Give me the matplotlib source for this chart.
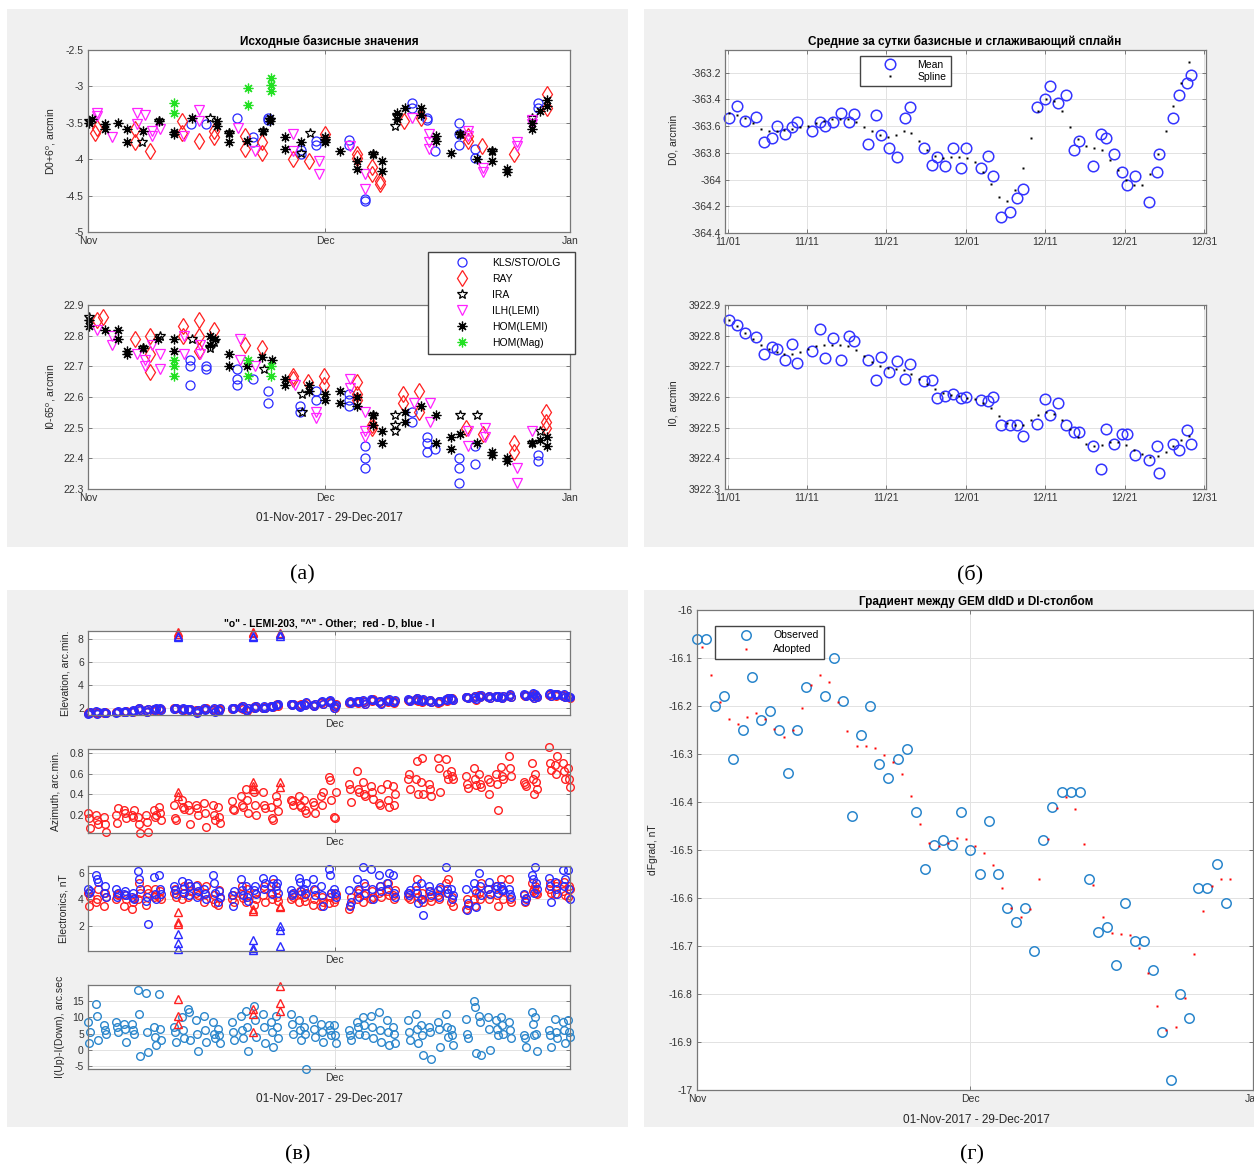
import numpy as np
import matplotlib
matplotlib.use("Agg")
import matplotlib.pyplot as plt
from matplotlib.lines import Line2D
from matplotlib.patches import Rectangle
from matplotlib.ticker import FuncFormatter

W, H, DPI = 1254, 1169, 100
plt.rcParams['font.family'] = ['Liberation Sans', 'DejaVu Sans']
plt.rcParams['mathtext.fontset'] = 'custom'
plt.rcParams['mathtext.rm'] = 'Liberation Sans'

# ===================== data =====================
# Time axis: days since 01-Nov-2017
month_ticks = [0, 30, 61]
month_labels = ['Nov', 'Dec', 'Jan']
date_ticks = [0, 10, 20, 30, 40, 50, 60]
date_labels = ['11/01', '11/11', '11/21', '12/01', '12/11', '12/21', '12/31']

# (a) raw baseline values per observer, D0+6 deg
kls_d_day = [13.0, 14.9, 18.8, 20.9, 20.9, 22.8, 22.8, 26.9, 26.9, 28.9, 28.9, 33.0, 33.0, 35.0, 35.0,
             41.0, 41.0, 42.9, 42.9, 43.9, 46.9, 46.9, 46.9, 49.0, 49.0, 57.0, 57.0]
kls_d_val = [-3.52, -3.52, -3.43, -3.70, -3.77, -3.43, -3.46, -3.93, -3.88, -3.75, -3.80, -3.73, -3.80, -4.55, -4.58,
             -3.23, -3.30, -3.43, -3.46, -3.89, -3.50, -3.66, -3.80, -3.86, -3.98, -3.23, -3.30]
ray_d_day = [0.9, 1.1, 6.0, 6.0, 7.9, 11.9, 11.9, 14.0, 15.9, 15.9, 19.9, 19.9, 22.0, 22.0, 26.0, 28.0, 30.0,
             34.0, 34.0, 35.9, 35.9, 37.0, 37.0, 40.0, 42.1, 48.1, 48.1, 49.9, 53.9, 58.1, 58.1]
ray_d_val = [-3.64, -3.57, -3.59, -3.77, -3.89, -3.48, -3.64, -3.75, -3.61, -3.70, -3.68, -3.86, -3.77, -3.91, -4.00,
             -4.02, -3.66, -3.93, -3.98, -4.11, -4.20, -4.30, -4.34, -3.48, -3.43, -3.68, -3.75, -3.82, -3.93,
             -3.11, -3.30]
ira_d_day = [0.1, 6.8, 9.0, 15.4, 17.9, 22.2, 23.0, 27.0, 28.1, 30.0, 36.1, 38.9, 39.1, 47.1, 51.1, 56.2]
ira_d_val = [-3.48, -3.77, -3.48, -3.43, -3.64, -3.61, -3.46, -3.91, -3.64, -3.75, -3.93, -3.55, -3.41, -3.66,
             -3.89, -3.43]
ilh_d_day = [1.1, 1.1, 3.0, 6.2, 6.2, 7.2, 8.1, 8.1, 9.1, 12.1, 14.0, 14.0, 19.0, 21.1, 26.0, 26.0, 29.2, 29.2,
             33.2, 35.1, 35.1, 41.0, 43.1, 43.1, 43.1, 48.1, 48.1, 50.0, 50.0, 54.3, 54.3, 56.2, 56.2]
ilh_d_val = [-3.36, -3.40, -3.70, -3.36, -3.52, -3.39, -3.61, -3.68, -3.59, -3.68, -3.32, -3.48, -3.57, -3.89,
             -3.66, -3.89, -4.02, -4.20, -3.82, -4.20, -4.41, -3.43, -3.66, -3.77, -3.86, -3.61, -3.68, -4.18,
             -4.12, -3.77, -3.82, -3.52, -3.46]
homl_d_day = [0.1, 0.5, 2.2, 2.2, 3.8, 4.9, 4.9, 7.0, 9.0, 10.9, 10.9, 13.1, 16.3, 16.3, 17.9, 17.9, 20.1, 22.2,
              23.0, 23.0, 24.9, 24.9, 27.0, 30.0, 30.0, 31.9, 34.0, 34.0, 36.1, 37.2, 37.2, 39.1, 39.1, 40.1,
              42.2, 42.2, 44.1, 44.1, 46.0, 47.1, 49.2, 51.1, 51.1, 53.0, 53.0, 56.2, 56.2, 57.2, 58.1, 58.1]
homl_d_val = [-3.50, -3.45, -3.52, -3.58, -3.50, -3.59, -3.77, -3.61, -3.48, -3.62, -3.66, -3.43, -3.48, -3.55,
              -3.64, -3.77, -3.75, -3.61, -3.43, -3.48, -3.70, -3.86, -3.77, -3.70, -3.77, -3.89, -4.02, -4.14,
              -3.93, -4.02, -4.16, -3.36, -3.45, -3.30, -3.30, -3.39, -3.68, -3.75, -3.91, -3.66, -4.00, -3.89,
              -4.02, -4.14, -4.18, -3.50, -3.59, -3.34, -3.18, -3.27]
homm_d_day = [10.9, 10.9, 20.2, 20.2, 23.2, 23.2, 23.2]
homm_d_val = [-3.23, -3.36, -3.02, -3.25, -2.89, -2.98, -3.07]

# (a) raw baseline values per observer, I0-65 deg
kls_i_day = [12.9, 12.9, 12.9, 14.9, 14.9, 18.9, 18.9, 18.9, 20.9, 22.8, 22.8, 26.8, 26.8, 28.9, 28.9, 33.0, 33.0,
             33.0, 35.0, 35.0, 35.0, 41.0, 41.0, 42.9, 42.9, 42.9, 43.9, 46.9, 46.9, 46.9, 49.0, 49.0, 57.0, 57.0]
kls_i_val = [22.72, 22.70, 22.64, 22.70, 22.69, 22.69, 22.66, 22.64, 22.66, 22.62, 22.58, 22.57, 22.55, 22.62,
             22.59, 22.61, 22.59, 22.57, 22.44, 22.40, 22.37, 22.55, 22.52, 22.47, 22.45, 22.42, 22.43, 22.40,
             22.37, 22.32, 22.44, 22.38, 22.41, 22.39]
ray_i_day = [1.1, 1.9, 6.0, 7.9, 7.9, 7.9, 12.0, 12.0, 14.0, 14.0, 14.0, 15.9, 19.9, 22.0, 26.0, 26.0, 27.9, 29.9,
             29.9, 34.1, 34.1, 34.1, 36.0, 36.0, 39.9, 39.9, 41.9, 41.9, 47.9, 50.0, 53.9, 53.9, 57.9, 57.9, 57.9]
ray_i_val = [22.85, 22.86, 22.79, 22.80, 22.74, 22.68, 22.83, 22.80, 22.85, 22.80, 22.75, 22.82, 22.77, 22.76,
             22.67, 22.66, 22.65, 22.67, 22.64, 22.65, 22.61, 22.59, 22.51, 22.50, 22.61, 22.58, 22.62, 22.55,
             22.50, 22.48, 22.45, 22.42, 22.55, 22.52, 22.50]
ira_i_day = [0.1, 7.0, 9.1, 13.2, 15.4, 15.9, 22.3, 27.1, 27.1, 36.1, 38.9, 38.9, 38.9, 47.1, 49.2, 56.2, 57.2]
ira_i_val = [22.86, 22.76, 22.80, 22.79, 22.76, 22.78, 22.69, 22.61, 22.55, 22.54, 22.54, 22.51, 22.49, 22.54,
             22.54, 22.45, 22.49]
ilh_i_day = [1.1, 3.0, 3.0, 6.2, 7.2, 7.2, 8.1, 9.1, 9.1, 12.1, 12.1, 14.2, 14.2, 19.2, 19.2, 21.1, 26.2, 28.9,
             28.9, 33.2, 33.2, 35.1, 35.1, 35.1, 41.2, 43.3, 43.3, 48.1, 48.1, 50.2, 50.2, 54.3, 54.3, 56.2]
ilh_i_val = [22.82, 22.80, 22.77, 22.74, 22.70, 22.72, 22.77, 22.74, 22.69, 22.80, 22.74, 22.77, 22.74, 22.79,
             22.72, 22.70, 22.64, 22.55, 22.53, 22.66, 22.63, 22.55, 22.49, 22.47, 22.58, 22.58, 22.52, 22.49,
             22.44, 22.50, 22.47, 22.37, 22.32, 22.49]
homl_i_day = [0.1, 0.1, 2.2, 3.8, 3.8, 4.9, 4.9, 7.0, 8.9, 10.9, 10.9, 15.4, 15.4, 16.1, 17.9, 17.9, 20.1, 22.0,
              23.3, 24.9, 24.9, 28.0, 28.0, 30.0, 30.0, 31.9, 31.9, 34.0, 34.0, 36.1, 36.1, 37.2, 37.2, 40.1,
              40.1, 42.2, 44.1, 44.1, 46.0, 46.0, 47.1, 49.2, 51.1, 51.1, 53.0, 53.0, 56.2, 57.2, 58.1, 58.1]
homl_i_val = [22.85, 22.83, 22.82, 22.82, 22.79, 22.75, 22.74, 22.76, 22.79, 22.79, 22.75, 22.80, 22.77, 22.79,
              22.74, 22.70, 22.70, 22.73, 22.72, 22.66, 22.64, 22.64, 22.62, 22.61, 22.59, 22.62, 22.58, 22.60,
              22.57, 22.54, 22.51, 22.49, 22.45, 22.55, 22.52, 22.57, 22.54, 22.45, 22.47, 22.43, 22.48, 22.45,
              22.42, 22.41, 22.40, 22.39, 22.45, 22.46, 22.47, 22.44]
homm_i_day = [10.9, 10.9, 10.9, 20.2, 20.2, 23.2, 23.2]
homm_i_val = [22.72, 22.70, 22.67, 22.72, 22.67, 22.70, 22.67]

# (b) daily means and smoothing spline
obs_days = [0.15, 1.14, 2.12, 3.51, 4.54, 5.53, 6.17, 7.21, 8.15, 8.79, 10.62, 11.60, 12.25, 13.28, 14.27,
            15.31, 15.90, 17.68, 18.67, 19.31, 20.35, 21.38, 22.37, 22.96, 24.79, 25.78, 26.42, 27.41, 28.40,
            29.43, 30.02, 31.85, 32.84, 33.48, 34.47, 35.51, 36.49, 37.19, 38.96, 39.95, 40.54, 41.58, 42.62,
            43.56, 44.20, 46.02, 47.01, 47.65, 48.69, 49.63, 50.27, 51.26, 53.09, 54.07, 54.37, 56.15, 56.79,
            57.83, 58.42]
d0_mean = [-363.54, -363.45, -363.56, -363.53, -363.72, -363.69, -363.60, -363.66, -363.61, -363.57,
           -363.64, -363.57, -363.60, -363.57, -363.50, -363.57, -363.51, -363.73, -363.52, -363.67,
           -363.76, -363.83, -363.54, -363.46, -363.76, -363.89, -363.83, -363.90, -363.76, -363.91,
           -363.76, -363.91, -363.82, -363.97, -364.28, -364.24, -364.14, -364.07, -363.46, -363.40,
           -363.30, -363.43, -363.37, -363.78, -363.71, -363.90, -363.66, -363.69, -363.81, -363.94,
           -364.04, -363.97, -364.17, -363.94, -363.81, -363.54, -363.37, -363.28, -363.22]
i0_mean = [3922.851, 3922.835, 3922.808, 3922.795, 3922.739, 3922.762, 3922.755, 3922.722, 3922.773, 3922.711,
           3922.749, 3922.822, 3922.728, 3922.792, 3922.722, 3922.798, 3922.782, 3922.722, 3922.657, 3922.732,
           3922.681, 3922.716, 3922.659, 3922.706, 3922.652, 3922.657, 3922.598, 3922.603, 3922.609, 3922.598,
           3922.600, 3922.591, 3922.586, 3922.600, 3922.508, 3922.508, 3922.510, 3922.473, 3922.513, 3922.592,
           3922.542, 3922.580, 3922.508, 3922.486, 3922.486, 3922.441, 3922.364, 3922.497, 3922.446, 3922.479,
           3922.479, 3922.412, 3922.396, 3922.441, 3922.353, 3922.448, 3922.427, 3922.492, 3922.446]
spline_days = np.arange(59) + 0.15
d0_spline = [-363.50, -363.52, -363.54, -363.58, -363.62, -363.64, -363.64, -363.63, -363.62, -363.61,
             -363.60, -363.58, -363.56, -363.55, -363.55, -363.55, -363.57, -363.61, -363.64, -363.67,
             -363.68, -363.67, -363.64, -363.65, -363.71, -363.78, -363.82, -363.84, -363.83, -363.83,
             -363.84, -363.87, -363.94, -364.03, -364.13, -364.16, -364.08, -363.91, -363.69, -363.49,
             -363.40, -363.41, -363.49, -363.61, -363.70, -363.75, -363.76, -363.78, -363.85, -363.93,
             -364.00, -364.04, -364.04, -363.96, -363.81, -363.64, -363.45, -363.28, -363.12]
i0_spline = [3922.851, 3922.833, 3922.809, 3922.790, 3922.771, 3922.755, 3922.746, 3922.741, 3922.741, 3922.746,
             3922.755, 3922.765, 3922.770, 3922.770, 3922.768, 3922.766, 3922.754, 3922.733, 3922.714, 3922.701,
             3922.694, 3922.690, 3922.687, 3922.676, 3922.660, 3922.643, 3922.625, 3922.614, 3922.607, 3922.602,
             3922.598, 3922.594, 3922.581, 3922.564, 3922.538, 3922.516, 3922.508, 3922.508, 3922.524, 3922.540,
             3922.551, 3922.546, 3922.524, 3922.497, 3922.470, 3922.448, 3922.441, 3922.443, 3922.452, 3922.454,
             3922.445, 3922.427, 3922.414, 3922.405, 3922.408, 3922.421, 3922.441, 3922.459, 3922.473]

# (c) theodolite checks: three sessions per observation day (hours from the daily mean time)
session_hours = [-3, 0, 3]
elev_d = [[1.50, 1.60, 1.55], [1.60, 1.50, 1.55], [1.55, 1.60, 1.50], [1.60, 1.65, 1.60], [1.65, 1.60, 1.70],
          [1.70, 1.65, 1.70], [1.90, 2.00, 1.80], [1.80, 1.60, 1.90], [1.85, 1.70, 1.90], [1.90, 1.80, 1.85],
          [1.95, 1.90, 2.00], [1.85, 1.90, 1.80], [1.90, 1.80, 1.85], [1.80, 1.60, 1.75], [1.90, 1.85, 2.00],
          [1.80, 1.90, 1.70], [1.85, 1.75, 1.90], [1.90, 2.00, 1.95], [2.00, 2.10, 1.90], [1.80, 1.70, 2.00],
          [2.00, 2.10, 2.05], [1.95, 2.05, 2.00], [2.10, 2.15, 2.05], [2.20, 2.30, 2.15], [2.30, 2.25, 2.35],
          [2.20, 2.10, 2.30], [2.30, 2.20, 2.40], [2.25, 2.10, 2.30], [2.40, 2.50, 2.30], [2.50, 2.60, 2.45],
          [2.10, 2.00, 2.30], [2.40, 2.50, 2.45], [2.50, 2.40, 2.55], [2.60, 2.50, 2.30], [2.70, 2.60, 2.75],
          [2.50, 2.60, 2.40], [2.60, 2.50, 2.70], [2.55, 2.40, 2.60], [2.70, 2.60, 2.65], [2.70, 2.80, 2.60],
          [2.65, 2.50, 2.70], [2.60, 2.70, 2.50], [2.40, 2.60, 2.50], [2.70, 2.60, 2.80], [2.75, 2.80, 2.65],
          [2.90, 2.95, 2.85], [2.90, 3.00, 2.70], [3.10, 2.90, 3.00], [2.90, 3.00, 2.80], [3.00, 2.90, 3.05],
          [2.90, 2.80, 3.00], [3.00, 3.10, 2.90], [3.10, 3.05, 3.10], [3.00, 3.20, 2.80], [3.10, 3.00, 2.90],
          [3.10, 3.20, 3.00], [3.15, 3.05, 3.20], [3.00, 3.10, 2.90], [3.00, 2.90, 2.85]]
elev_i = [[1.45, 1.55, 1.60], [1.70, 1.45, 1.60], [1.60, 1.55, 1.50], [1.55, 1.65, 1.70], [1.60, 1.70, 1.65],
          [1.65, 1.75, 1.70], [1.85, 1.95, 1.75], [1.75, 1.65, 1.85], [1.90, 1.75, 1.95], [1.85, 1.95, 1.80],
          [1.90, 1.95, 2.00], [1.80, 1.95, 1.85], [1.85, 1.75, 1.90], [1.70, 1.55, 1.80], [1.95, 1.80, 1.90],
          [1.75, 1.95, 1.65], [1.80, 1.70, 1.95], [1.95, 1.90, 2.00], [2.05, 1.95, 2.10], [1.75, 1.80, 1.95],
          [2.05, 2.00, 2.15], [2.00, 2.10, 1.95], [2.15, 2.05, 2.10], [2.25, 2.20, 2.30], [2.35, 2.20, 2.30],
          [2.15, 2.05, 2.25], [2.35, 2.25, 2.45], [2.20, 2.15, 2.35], [2.45, 2.55, 2.35], [2.55, 2.65, 2.40],
          [2.00, 2.15, 2.25], [2.45, 2.55, 2.40], [2.55, 2.45, 2.60], [2.65, 2.45, 2.35], [2.75, 2.65, 2.70],
          [2.45, 2.55, 2.35], [2.65, 2.55, 2.75], [2.50, 2.45, 2.65], [2.75, 2.65, 2.60], [2.75, 2.85, 2.65],
          [2.70, 2.55, 2.75], [2.55, 2.65, 2.45], [2.45, 2.55, 2.60], [2.75, 2.65, 2.85], [2.80, 2.75, 2.70],
          [2.95, 2.90, 2.80], [2.85, 3.05, 2.75], [3.05, 2.95, 3.10], [2.95, 3.05, 2.85], [3.05, 2.95, 3.00],
          [2.95, 2.85, 3.05], [3.05, 3.15, 2.95], [3.15, 3.10, 3.05], [3.05, 3.25, 2.85], [3.15, 3.05, 2.95],
          [3.15, 3.25, 3.05], [3.20, 3.10, 3.15], [3.05, 3.15, 2.95], [3.05, 2.95, 2.90]]
azim = [[0.22, 0.17, 0.08], [0.20, 0.15, 0.12], [0.18, 0.12, 0.04], [0.20, 0.13, 0.27], [0.25, 0.22, 0.17],
        [0.20, 0.18, 0.25], [0.18, 0.12, 0.03], [0.20, 0.14, 0.04], [0.25, 0.18, 0.20], [0.28, 0.22, 0.15],
        [0.30, 0.17, 0.15], [0.35, 0.28, 0.26], [0.30, 0.25, 0.12], [0.30, 0.27, 0.20], [0.32, 0.22, 0.09],
        [0.30, 0.20, 0.15], [0.28, 0.18, 0.13], [0.34, 0.26, 0.25], [0.38, 0.30, 0.28], [0.45, 0.35, 0.22],
        [0.42, 0.30, 0.20], [0.42, 0.30, 0.27], [0.28, 0.17, 0.15], [0.38, 0.33, 0.24], [0.35, 0.34, 0.30],
        [0.38, 0.30, 0.28], [0.35, 0.25, 0.22], [0.33, 0.30, 0.22], [0.38, 0.30, 0.42], [0.57, 0.54, 0.35],
        [0.18, 0.17, 0.42], [0.50, 0.45, 0.33], [0.62, 0.45, 0.42], [0.52, 0.40, 0.38], [0.48, 0.42, 0.36],
        [0.32, 0.30, 0.45], [0.50, 0.35, 0.28], [0.48, 0.30, 0.40], [0.55, 0.60, 0.45], [0.55, 0.72, 0.40],
        [0.52, 0.75, 0.40], [0.50, 0.45, 0.38], [0.75, 0.65, 0.42], [0.74, 0.60, 0.55], [0.62, 0.58, 0.55],
        [0.58, 0.50, 0.46], [0.65, 0.55, 0.49], [0.60, 0.50, 0.47], [0.55, 0.40, 0.52], [0.60, 0.50, 0.25],
        [0.66, 0.58, 0.55], [0.77, 0.65, 0.58], [0.52, 0.50, 0.48], [0.70, 0.55, 0.40], [0.60, 0.52, 0.45],
        [0.85, 0.70, 0.63], [0.68, 0.60, 0.77], [0.70, 0.62, 0.55], [0.65, 0.55, 0.47]]
elec_d = [[4.5, 3.5, 4.2], [3.8, 4.0, 4.8], [3.5, 4.5, 4.2], [4.0, 4.4, 4.3], [3.5, 4.3, 4.0],
          [3.3, 3.8, 4.1], [4.0, 5.2, 4.5], [3.6, 4.8, 4.5], [4.2, 4.8, 4.3], [4.2, 4.6, 4.0],
          [4.5, 4.8, 4.2], [4.0, 4.5, 5.0], [4.2, 5.0, 4.6], [4.5, 5.1, 4.3], [3.8, 4.5, 5.0],
          [4.0, 4.3, 3.7], [3.6, 4.7, 4.1], [4.0, 4.3, 3.8], [4.4, 5.0, 4.1], [3.8, 4.8, 4.3],
          [3.6, 4.5, 4.0], [4.3, 5.0, 3.8], [4.5, 4.0, 5.2], [4.7, 4.2, 3.9], [4.0, 4.4, 4.2],
          [3.8, 4.6, 4.4], [4.2, 3.9, 4.5], [3.6, 4.0, 4.7], [3.5, 4.2, 3.8], [3.7, 4.2, 4.5],
          [3.8, 4.0, 4.4], [3.3, 3.6, 4.2], [4.0, 4.5, 4.7], [3.8, 4.3, 5.0], [4.0, 4.6, 4.2],
          [4.5, 5.0, 4.2], [4.6, 5.2, 4.3], [4.3, 4.0, 4.7], [4.2, 4.5, 4.0], [4.7, 5.5, 4.2],
          [4.0, 4.5, 3.8], [4.6, 4.2, 3.9], [4.3, 4.0, 4.8], [5.2, 4.5, 5.5], [3.8, 4.2, 3.5],
          [3.3, 4.0, 3.6], [4.0, 3.5, 4.5], [4.5, 4.0, 5.2], [4.8, 4.0, 4.4], [5.0, 4.3, 3.5],
          [5.5, 4.6, 4.0], [5.5, 4.0, 3.8], [4.3, 3.8, 4.0], [5.2, 4.6, 4.8], [5.0, 4.5, 4.4],
          [4.8, 5.2, 4.5], [4.4, 5.0, 5.2], [4.6, 5.3, 4.3], [4.2, 5.0, 4.8]]
elec_i = [[4.8, 4.5, 4.6], [5.8, 5.5, 5.3], [4.5, 5.0, 4.2], [4.8, 4.2, 4.5], [4.4, 4.6, 4.3],
          [4.2, 4.5, 4.0], [6.1, 5.5, 4.8], [3.9, 4.2, 2.1], [5.7, 4.4, 4.0], [5.8, 4.8, 4.4],
          [5.0, 4.7, 4.4], [5.4, 4.8, 4.5], [5.2, 4.3, 5.0], [5.0, 4.2, 4.6], [4.8, 4.4, 4.0],
          [5.8, 5.2, 4.5], [3.8, 4.6, 4.2], [4.3, 3.5, 4.6], [5.5, 4.7, 4.3], [5.0, 4.2, 3.9],
          [4.7, 5.0, 4.4], [5.6, 4.8, 5.2], [5.0, 4.4, 5.5], [5.0, 5.2, 4.5], [4.7, 4.3, 4.5],
          [5.6, 5.3, 4.6], [4.8, 4.4, 5.2], [5.5, 4.8, 4.3], [5.0, 4.3, 3.5], [6.3, 5.8, 4.5],
          [4.8, 4.5, 4.2], [4.7, 3.5, 3.8], [5.5, 4.8, 4.2], [6.4, 5.2, 4.5], [6.3, 4.8, 4.0],
          [5.8, 5.0, 4.6], [5.2, 4.8, 6.0], [5.8, 4.5, 4.2], [4.5, 4.3, 4.7], [5.0, 4.5, 3.7],
          [5.2, 4.0, 2.8], [5.0, 4.6, 4.3], [4.7, 4.2, 4.9], [6.4, 4.8, 4.5], [4.8, 4.0, 4.3],
          [4.8, 3.2, 3.7], [5.2, 4.7, 3.4], [6.0, 5.0, 4.3], [4.8, 5.3, 4.4], [4.8, 5.0, 4.5],
          [5.0, 4.8, 4.7], [4.8, 4.4, 4.2], [4.4, 3.9, 4.1], [5.8, 5.5, 4.5], [6.4, 5.2, 4.8],
          [5.6, 5.0, 3.8], [5.3, 4.8, 4.4], [6.2, 5.0, 5.5], [6.2, 4.8, 4.0]]
up_down = [[8.5, 2.0, 5.5], [14.0, 10.5, 3.0], [7.5, 6.0, 5.0], [8.5, 7.0, 5.5], [8.0, 6.5, 2.5],
           [8.0, 6.0, 5.0], [18.5, 11.0, -2.0], [17.5, 5.5, -0.8], [7.0, 4.0, 1.5], [17.0, 6.5, 3.0],
           [7.0, 5.5, 2.5], [10.0, 6.0, 3.5], [12.5, 11.5, 3.0], [9.0, 5.0, -0.5], [10.5, 6.0, 2.5],
           [8.5, 5.0, 3.5], [6.5, 4.5, 2.0], [8.5, 5.5, 3.0], [10.5, 6.0, 3.5], [12.0, 7.0, -0.5],
           [13.5, 9.0, 4.0], [11.0, 7.0, 2.0], [8.5, 5.5, 1.0], [10.5, 7.0, 3.5], [11.0, 8.0, 5.0],
           [9.0, 6.0, 3.0], [7.0, 5.0, -5.8], [9.5, 6.5, 4.0], [8.0, 5.5, 2.5], [7.5, 6.0, 4.5],
           [7.5, 4.5, 2.0], [6.0, 4.5, 3.0], [8.5, 7.0, 5.0], [10.0, 7.5, 4.5], [10.5, 7.0, 3.5],
           [11.5, 6.0, 2.5], [9.0, 5.5, 1.5], [7.0, 5.0, 2.0], [9.0, 5.5, 3.0], [11.0, 6.5, 2.0],
           [7.5, 4.5, -1.5], [7.0, 5.5, -2.8], [8.5, 6.5, 1.0], [11.0, 7.0, 4.0], [6.5, 4.5, 1.5],
           [9.5, 5.0, 3.5], [15.0, 13.0, -1.0], [10.5, 8.5, -1.5], [10.0, 6.5, 0.0], [9.0, 6.5, 4.5],
           [10.0, 7.5, 5.0], [8.5, 6.0, 3.5], [4.5, 3.5, 1.0], [11.5, 8.0, 4.5], [10.0, 5.0, -0.5],
           [6.0, 4.5, 1.0], [9.5, 5.5, 3.5], [8.5, 6.0, 2.0], [9.0, 5.5, 4.0]]
# other theodolites ("^")
oth_elev_d_day = [10.9, 10.9, 20.1, 20.1, 23.3]
oth_elev_d_val = [8.6, 8.4, 8.6, 8.5, 8.5]
oth_elev_i_day = [10.9, 10.9, 20.1, 20.1, 23.3, 23.3]
oth_elev_i_val = [8.3, 8.2, 8.3, 8.2, 8.4, 8.3]
oth_az_day = [10.9, 10.9, 20.1, 20.1, 20.1, 23.3, 23.3]
oth_az_val = [0.42, 0.38, 0.52, 0.48, 0.45, 0.52, 0.47]
oth_el_d_day = [10.9, 10.9, 10.9, 20.1, 20.1, 23.3, 23.3]
oth_el_d_val = [3.0, 2.3, 2.1, 3.3, 3.1, 3.5, 3.4]
oth_el_i_day = [10.9, 10.9, 10.9, 20.1, 20.1, 20.1, 23.3, 23.3, 23.3]
oth_el_i_val = [1.4, 0.7, 0.25, 0.9, 0.3, 0.2, 2.0, 1.7, 0.5]
oth_ud_day = [10.9, 10.9, 10.9, 20.1, 20.1, 20.1, 23.3, 23.3, 23.3]
oth_ud_val = [15.5, 10.5, 8.0, 12.5, 11.0, 5.5, 19.5, 14.5, 12.0]

# (d) gradient between GEM dIdD and DI pillar
grad_obs_day = [0, 1, 2, 3, 4, 5, 6, 7, 8, 9, 10, 11, 12, 14, 15, 16, 17, 18, 19, 20, 21, 22, 23, 24, 25, 26, 27,
                28, 29, 30, 31, 32, 33, 34, 35, 36, 37, 38, 39, 40, 41, 42, 43, 44, 45, 46, 47, 48, 49, 50, 51,
                52, 53, 54, 55, 56, 57, 58]
grad_obs_val = [-16.06, -16.06, -16.20, -16.18, -16.31, -16.25, -16.14, -16.23, -16.21, -16.25, -16.34, -16.25,
                -16.16, -16.18, -16.10, -16.19, -16.43, -16.26, -16.20, -16.32, -16.35, -16.31, -16.29, -16.42,
                -16.54, -16.49, -16.48, -16.49, -16.42, -16.50, -16.55, -16.44, -16.55, -16.62, -16.65, -16.62,
                -16.71, -16.48, -16.41, -16.38, -16.38, -16.38, -16.56, -16.67, -16.66, -16.74, -16.61, -16.69,
                -16.69, -16.75, -16.88, -16.98, -16.80, -16.85, -16.58, -16.58, -16.53, -16.61]
grad_adopt_day = np.arange(59) + 0.5
grad_adopt_val = [-16.077, -16.136, -16.191, -16.227, -16.238, -16.223, -16.215, -16.227, -16.247, -16.264,
                  -16.250, -16.204, -16.157, -16.136, -16.150, -16.192, -16.252, -16.283, -16.283, -16.287,
                  -16.302, -16.317, -16.341, -16.388, -16.446, -16.485, -16.492, -16.485, -16.476, -16.478,
                  -16.491, -16.507, -16.531, -16.579, -16.621, -16.639, -16.622, -16.560, -16.478, -16.413,
                  -16.389, -16.415, -16.487, -16.572, -16.640, -16.672, -16.676, -16.678, -16.704, -16.756,
                  -16.824, -16.875, -16.869, -16.808, -16.717, -16.628, -16.576, -16.560, -16.560]

# ===================== drawing =====================
fig = plt.figure(figsize=(W / DPI, H / DPI), dpi=DPI, facecolor='white')

TXT = '#262626'
BLUE, RED, MAG, GRN = '#2a2aff', '#ff2020', '#ff22ff', '#22e022'
MBLUE = '#2a86cc'
ASTER = (8, 2, 0)


def axes_px(l, t, r, b):
    return fig.add_axes([l / W, 1 - b / H, (r - l) / W, (b - t) / H])


def text_px(x, y, s, **kw):
    kw.setdefault('ha', 'center')
    kw.setdefault('va', 'center')
    kw.setdefault('color', TXT)
    fig.text(x / W, 1 - y / H, s, **kw)


def panel_px(l, t, r, b):
    fig.add_artist(Rectangle((l / W, 1 - b / H), (r - l) / W, (b - t) / H,
                             transform=fig.transFigure, facecolor='#f0f0f0',
                             edgecolor='none', zorder=-5))


def legend_px(handles, labels, l, t, r, b, **kw):
    # legend box given by its pixel edges (left, top, right, bottom)
    fig.legend(handles, labels, loc='upper left',
               bbox_to_anchor=(l / W, 1 - b / H, (r - l) / W, (b - t) / H), mode='expand',
               borderaxespad=0, fontsize=7.5, fancybox=False, framealpha=1,
               edgecolor='#444444', **kw)


gfmt = FuncFormatter(lambda v, p: f'{v:g}')


def style(ax, xlim, xticks, xlabels, ylim, yticks):
    ax.set_xlim(xlim)
    ax.set_ylim(ylim)
    ax.set_xticks(xticks)
    ax.set_xticklabels(xlabels)
    ax.set_yticks(yticks)
    ax.yaxis.set_major_formatter(gfmt)
    ax.grid(True, color='#e2e2e2', lw=0.7)
    ax.set_axisbelow(True)
    for s in ax.spines.values():
        s.set_color('#777777')
        s.set_linewidth(0.9)
    ax.tick_params(direction='in', length=3, width=0.7, color='#777777',
                   labelcolor='#333333', labelsize=7.5, top=True, right=True, pad=3)


def pts(ax, x, y, marker, color, ms, mew=1.0):
    ax.plot(x, y, ls='none', marker=marker, ms=ms, mew=mew,
            mec=color, mfc='none', clip_on=False)


# grey panel backgrounds
panel_px(7, 9, 628, 547)
panel_px(644, 9, 1254, 547)
panel_px(7, 590, 628, 1127)
panel_px(644, 590, 1254, 1127)

# ---------- (a) ----------
series_a = [('KLS/STO/OLG', 'o', BLUE, 6.5, kls_d_day, kls_d_val, kls_i_day, kls_i_val),
            ('RAY', 'd', RED, 8, ray_d_day, ray_d_val, ray_i_day, ray_i_val),
            ('IRA', '*', 'k', 7, ira_d_day, ira_d_val, ira_i_day, ira_i_val),
            ('ILH(LEMI)', 'v', MAG, 7, ilh_d_day, ilh_d_val, ilh_i_day, ilh_i_val),
            ('HOM(LEMI)', ASTER, 'k', 7, homl_d_day, homl_d_val, homl_i_day, homl_i_val),
            ('HOM(Mag)', ASTER, GRN, 7, homm_d_day, homm_d_val, homm_i_day, homm_i_val)]

axa1 = axes_px(88, 50, 570, 232)
axa2 = axes_px(88, 305, 570, 489)
style(axa1, (0, 61), month_ticks, month_labels, (-5, -2.5), np.arange(-5, -2.49, 0.5))
style(axa2, (0, 61), month_ticks, month_labels, (22.3, 22.9), np.round(np.arange(22.3, 22.91, 0.1), 1))
handles = []
for name, mk, col, ms, dd, dv, idd, iv in series_a:
    pts(axa1, dd, dv, mk, col, ms, mew=0.9)
    pts(axa2, idd, iv, mk, col, ms, mew=0.9)
    handles.append(Line2D([], [], ls='none', marker=mk, ms=ms, mew=0.9, mec=col, mfc='none'))
legend_px(handles, [s[0] for s in series_a], 428, 252, 575, 366,
          labelspacing=0.57, borderpad=0.58, handlelength=5.4, handletextpad=0.2)
text_px(329, 41, 'Исходные базисные значения', fontsize=8.5, fontweight='bold', color='black')
text_px(51, 141, r'D0+6$^\mathrm{o}$, arcmin', fontsize=7.5, rotation=90)
text_px(51, 397, r'I0-65$^\mathrm{o}$, arcmin', fontsize=7.5, rotation=90)
text_px(329, 518, '01-Nov-2017 - 29-Dec-2017', fontsize=8.5)

# ---------- (b) ----------
axb1 = axes_px(725, 50, 1206, 233)
axb2 = axes_px(725, 305, 1206, 489)
style(axb1, (-0.34, 60.25), date_ticks, date_labels, (-364.4, -363.03),
      np.round(np.arange(-364.4, -363.19, 0.2), 1))
style(axb2, (-0.34, 60.25), date_ticks, date_labels, (3922.3, 3922.9),
      np.round(np.arange(3922.3, 3922.91, 0.1), 1))
for ax, mean, spl in [(axb1, d0_mean, d0_spline), (axb2, i0_mean, i0_spline)]:
    pts(ax, obs_days, mean, 'o', '#3535ff', 7.6, mew=1.1)
    ax.plot(spline_days, spl, ls='none', marker='s', ms=1.6, mec='none', mfc='black', clip_on=False)
hb = [Line2D([], [], ls='none', marker='o', ms=7.6, mew=1.1, mec='#3535ff', mfc='none'),
      Line2D([], [], ls='none', marker='s', ms=1.6, mec='none', mfc='black')]
legend_px(hb, ['Mean', 'Spline'], 860, 56, 951, 90,
          labelspacing=0.19, borderpad=0.38, handlelength=5.0, handletextpad=0.1)
text_px(965, 41, 'Средние за сутки базисные и сглаживающий сплайн', fontsize=8.5,
        fontweight='bold', color='black')
text_px(674, 140, 'D0, arcmin', fontsize=7.5, rotation=90)
text_px(674, 403, 'I0, arcmin', fontsize=7.5, rotation=90)

# ---------- (c) ----------
sess = np.array(session_hours) / 24.0
t_sess = np.array(obs_days)[:, None] + sess[None, :]
c_xlim = (t_sess.min(), t_sess.max())
rows_c = [(631, 715, (1.35, 8.7), [2, 4, 6, 8], 'Elevation, arc.min.', 66),
          (749, 833, (0.03, 0.835), [0.2, 0.4, 0.6, 0.8], 'Azimuth, arc.min.', 56),
          (866, 951, (0.1, 6.5), [2, 4, 6], 'Electronics, nT', 64),
          (985, 1069, (-5.9, 19.9), [-5, 0, 5, 10, 15], 'I(Up)-I(Down), arc.sec', 60)]
axc = []
for top, bot, ylim, yt, lab, lx in rows_c:
    ax = axes_px(88, top, 570, bot)
    style(ax, c_xlim, [30], ['Dec'], ylim, yt)
    text_px(lx, (top + bot) / 2, lab, fontsize=7.5, rotation=90)
    axc.append(ax)
tx = t_sess.ravel()
pts(axc[0], tx, np.ravel(elev_d), 'o', RED, 5.5)
pts(axc[0], tx, np.ravel(elev_i), 'o', BLUE, 5.5)
pts(axc[0], oth_elev_d_day, oth_elev_d_val, '^', RED, 6)
pts(axc[0], oth_elev_i_day, oth_elev_i_val, '^', BLUE, 6)
pts(axc[1], tx, np.ravel(azim), 'o', RED, 5.5)
pts(axc[1], oth_az_day, oth_az_val, '^', RED, 6)
pts(axc[2], tx, np.ravel(elec_d), 'o', RED, 5.5)
pts(axc[2], tx, np.ravel(elec_i), 'o', BLUE, 5.5)
pts(axc[2], oth_el_d_day, oth_el_d_val, '^', RED, 6)
pts(axc[2], oth_el_i_day, oth_el_i_val, '^', BLUE, 6)
pts(axc[3], tx, np.ravel(up_down), 'o', MBLUE, 5.5)
pts(axc[3], oth_ud_day, oth_ud_val, '^', RED, 6)
text_px(329, 623, '"o" - LEMI-203, "^" - Other;  red - D, blue - I', fontsize=7.5,
        fontweight='bold', color='black')
text_px(329, 1099, '01-Nov-2017 - 29-Dec-2017', fontsize=8.5)

# ---------- (d) ----------
axd = axes_px(697, 610, 1253, 1090)
style(axd, (0, 61), month_ticks, month_labels, (-17, -16), np.round(np.arange(-17, -15.99, 0.1), 1))
pts(axd, grad_obs_day, grad_obs_val, 'o', MBLUE, 6.8, mew=1.1)
axd.plot(grad_adopt_day, grad_adopt_val, ls='none', marker='s', ms=1.8, mec='none', mfc='red', clip_on=False)
hd = [Line2D([], [], ls='none', marker='o', ms=6.8, mew=1.1, mec=MBLUE, mfc='none'),
      Line2D([], [], ls='none', marker='s', ms=1.8, mec='none', mfc='red')]
legend_px(hd, ['Observed', 'Adopted'], 715, 626, 824, 663,
          labelspacing=0.38, borderpad=0.43, handlelength=5.1, handletextpad=0.05)
text_px(976, 601, 'Градиент между GEM dIdD и DI-столбом', fontsize=8.5, fontweight='bold', color='black')
text_px(653, 850, 'dFgrad, nT', fontsize=7.5, rotation=90)
text_px(976, 1120, '01-Nov-2017 - 29-Dec-2017', fontsize=8.5)

# ---------- panel captions ----------
for x, y, s in [(302, 575, '(а)'), (970, 575, '(б)'), (298, 1155, '(в)'), (972, 1155, '(г)')]:
    text_px(x, y, s, fontsize=16, family=['Liberation Serif', 'DejaVu Serif'], color='black')

fig.savefig('out.png', dpi=DPI, facecolor='white')
